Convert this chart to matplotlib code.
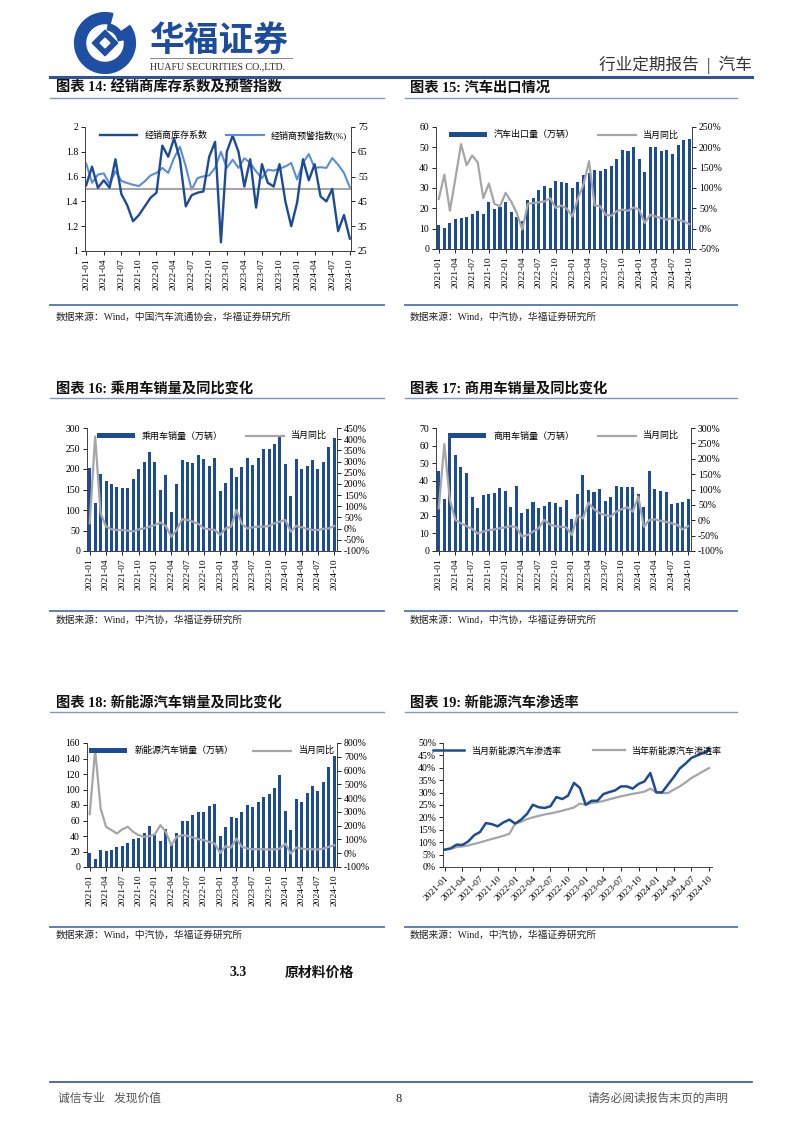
import numpy as np
import pandas as pd
import matplotlib
matplotlib.use('Agg')
import matplotlib.pyplot as plt
from matplotlib.lines import Line2D
from matplotlib.patches import Wedge, Polygon

plt.rcParams['font.family'] = ['Liberation Serif', 'Noto Sans CJK SC', 'DejaVu Sans']
plt.rcParams['axes.unicode_minus'] = False

months = list(pd.period_range('2021-01', '2024-10', freq='M').strftime('%Y-%m'))

# 图表14 经销商库存系数 / 预警指数
inv_coef = [1.53, 1.68, 1.51, 1.57, 1.51, 1.74, 1.46, 1.37, 1.24, 1.29, 1.36, 1.43,
            1.47, 1.85, 1.76, 1.91, 1.74, 1.36, 1.45, 1.47, 1.48, 1.76, 1.88, 1.07,
            1.80, 1.93, 1.80, 1.52, 1.74, 1.35, 1.70, 1.55, 1.52, 1.70, 1.40, 1.20,
            1.39, 1.74, 1.57, 1.70, 1.44, 1.40, 1.50, 1.16, 1.29, 1.10]
warn_idx = [60.3, 52.5, 55.8, 56.3, 52.0, 57.2, 53.3, 52.4, 51.7, 51.2, 53.1, 55.5,
            56.5, 58.5, 56.5, 62.5, 67.0, 59.1, 49.7, 54.4, 55.1, 55.5, 58.5, 65.0,
            58.5, 61.8, 58.5, 62.4, 60.5, 57.1, 54.4, 57.8, 57.4, 58.2, 59.1, 60.5,
            53.8, 60.5, 64.1, 58.5, 58.8, 58.5, 62.5, 59.8, 56.5, 50.7]

# 图表15 汽车出口
export_vol = [11.6, 10.3, 12.8, 14.8, 15.2, 15.7, 17.0, 18.5, 17.0, 23.1, 19.8, 20.8,
              23.1, 18.0, 15.5, 13.8, 24.3, 25.1, 28.9, 30.8, 30.0, 33.6, 32.8, 32.5,
              30.0, 32.8, 36.2, 37.4, 38.7, 38.2, 39.3, 40.6, 44.4, 48.9, 48.4, 50.0,
              44.4, 37.9, 50.0, 50.2, 48.4, 48.5, 46.7, 51.2, 53.8, 54.1]
export_yoy = [73, 133, 44, 125, 208, 156, 180, 163, 75, 111, 61, 55,
              88, 67, 39, -2, 61, 63, 65, 67, 75, 51, 57, 49,
              30, 75, 108, 166, 57, 55, 34, 32, 43, 47, 44, 52,
              47, 14, 34, 30, 26, 22, 26, 22, 18, 11]

# 图表16 乘用车
pv_sales = [203, 116, 188, 171, 164, 156, 154, 154, 175, 201, 218, 242,
            218, 149, 186, 96, 163, 222, 217, 214, 234, 224, 207, 226,
            147, 167, 202, 181, 206, 226, 210, 228, 248, 248, 261, 279,
            212, 133, 224, 199, 207, 222, 199, 217, 253, 276]
pv_yoy = [24, 412, 69, 9, -3, -6, -6, -9, -13, -3, 1, 9,
          16, 27, 12, -36, -6, 42, 39, 31, 21, 1, -3, -6,
          -28, 1, 9, 84, 21, 1, 6, 9, 9, 12, 24, 31,
          39, -13, 12, 6, -1, -6, -6, -1, 1, 12]

# 图表17 商用车
cv_sales = [45.5, 29.6, 65.1, 54.6, 48.0, 44.6, 30.9, 24.3, 31.7, 32.4, 32.8, 36.1,
            34.3, 24.9, 37.0, 21.4, 23.7, 27.9, 24.3, 25.8, 27.9, 27.5, 25.0, 29.0,
            18.0, 32.4, 43.3, 34.7, 33.4, 35.1, 28.7, 30.9, 37.0, 36.2, 36.6, 36.2,
            32.4, 24.9, 45.7, 35.5, 34.2, 33.6, 26.8, 27.1, 28.1, 29.6]
cv_yoy = [39, 248, 66, 1, -10, -19, -28, -43, -37, -32, -30, -26,
          -23, -19, -23, -53, -48, -37, -26, 1, -13, -19, -21, -23,
          -48, 17, 6, 57, 36, 23, 17, 12, 28, 36, 42, 28,
          77, -21, 1, 3, -2, -5, -10, -15, -30, -19]

# 图表18 新能源汽车
nev_sales = [18.2, 10.4, 22.5, 20.8, 21.6, 25.9, 27.7, 31.6, 35.5, 37.6, 44.5, 53.2,
             41.9, 33.3, 48.4, 28.0, 44.1, 59.7, 59.2, 66.6, 70.5, 70.9, 78.7, 80.9,
             40.2, 51.9, 64.9, 63.6, 71.4, 80.0, 77.8, 84.3, 89.9, 93.8, 102.5, 118.5,
             72.6, 47.6, 87.8, 84.3, 95.1, 104.6, 98.6, 109.4, 128.4, 142.7]
nev_yoy = [284, 752, 326, 192, 168, 143, 173, 192, 155, 131, 119, 124,
           138, 204, 155, 58, 119, 131, 126, 114, 102, 95, 82, 70,
           2, 51, 41, 107, 46, 34, 29, 29, 29, 27, 27, 34,
           70, -3, 41, 34, 29, 29, 27, 34, 46, 58]

# 图表19 渗透率
pen_month = [7.0, 7.5, 9.0, 8.9, 10.3, 12.8, 14.1, 17.7, 17.3, 16.4, 18.0, 19.1,
             17.5, 19.1, 21.4, 25.1, 24.1, 23.8, 24.5, 28.2, 27.4, 28.8, 33.9, 31.9,
             25.1, 26.7, 26.7, 29.4, 30.2, 30.9, 32.5, 32.5, 31.6, 33.5, 34.5, 37.9,
             30.1, 30.1, 33.2, 36.3, 39.7, 41.7, 44.0, 45.0, 46.0, 47.0]
pen_year = [7.0, 7.3, 8.0, 8.3, 8.7, 9.3, 9.9, 10.6, 11.3, 11.9, 12.6, 13.4,
            17.5, 18.2, 19.3, 20.0, 20.6, 21.2, 21.6, 22.1, 22.7, 23.3, 24.0, 25.6,
            25.1, 25.8, 26.1, 26.6, 27.3, 27.9, 28.5, 29.0, 29.5, 29.9, 30.4, 31.6,
            30.1, 29.8, 29.8, 31.2, 32.5, 34.1, 35.9, 37.2, 38.6, 39.9]

BLUE = '#1d4c97'
LIGHT = '#5b8ddc'
GRAY = '#a6a6a6'
RULE = '#2f5597'
TXT = '#222222'

W, H = 802, 1133
fig = plt.figure(figsize=(W / 100, H / 100), dpi=100)


def ax_px(x0, y0, x1, y1):
    return fig.add_axes([x0 / W, 1 - y1 / H, (x1 - x0) / W, (y1 - y0) / H])


def txt(x, y, s, **kw):
    kw.setdefault('va', 'center')
    kw.setdefault('color', TXT)
    fig.text(x / W, 1 - y / H, s, **kw)


def hline(x0, x1, y, **kw):
    fig.add_artist(Line2D([x0 / W, x1 / W], [1 - y / H, 1 - y / H],
                          transform=fig.transFigure, **kw))


def style_x(ax, rot=90):
    x = np.arange(len(months))
    ax.set_xticks(x[::3])
    if rot == 90:
        ax.set_xticklabels(months[::3], rotation=90, fontsize=6.8)
    else:
        ax.set_xticklabels(months[::3], rotation=45, ha='right',
                           rotation_mode='anchor', fontsize=6.8)
    ax.tick_params(axis='x', which='major', length=3, width=0.6, pad=2)


def style_y(ax, fs=7):
    ax.tick_params(axis='y', length=3, width=0.6, labelsize=fs, pad=2)
    for s in ax.spines.values():
        s.set_linewidth(0.7)
        s.set_color('#444444')
    ax.spines['top'].set_visible(False)


pct = matplotlib.ticker.FuncFormatter(lambda v, p: '%d%%' % v)


def bar_chart(rect, bars, yoy, label, ylim, ystep, rlim, rstep, colsp):
    ax = ax_px(*rect)
    x = np.arange(len(months))
    ax.bar(x, bars, width=0.55, color=BLUE, label=label, zorder=2)
    ax.set_xlim(-0.5, len(months) - 0.5)
    ax.set_ylim(*ylim)
    ax.set_yticks(np.arange(ylim[0], ylim[1] + ystep / 2, ystep))
    style_x(ax)
    style_y(ax)
    ax2 = ax.twinx()
    ax2.plot(x, yoy, color=GRAY, lw=1.6, label='当月同比')
    ax2.set_ylim(*rlim)
    ax2.set_yticks(np.arange(rlim[0], rlim[1] + rstep / 2, rstep))
    ax2.yaxis.set_major_formatter(pct)
    style_y(ax2)
    h1, l1 = ax.get_legend_handles_labels()
    h2, l2 = ax2.get_legend_handles_labels()
    ax2.legend(h1 + h2, l1 + l2, loc='upper center', bbox_to_anchor=(0.5, 1.04),
               ncol=2, frameon=False, fontsize=6.5, handlelength=4.2,
               handleheight=0.45, columnspacing=colsp)
    return ax, ax2


# ---------------- header ----------------
lax = fig.add_axes([70 / W, 1 - 74 / H, 70 / W, 62 / H])
lax.set_xlim(-1.15, 1.15)
lax.set_ylim(-1.02, 1.02)
lax.set_aspect('equal')
lax.axis('off')
lax.add_patch(Wedge((0, 0), 1.0, 75, 395, width=0.36, color='#1f4fa3'))
lax.add_patch(Polygon([[-0.42, 0], [0, 0.42], [0.42, 0], [0, -0.42]], color='#1f4fa3'))
lax.add_patch(Polygon([[-0.16, 0], [0, 0.16], [0.16, 0], [0, -0.16]], color='white'))
lax.add_patch(Wedge((0, 0), 0.64, 10, 80, width=0.2, color='#1f4fa3'))

txt(150, 40, '华福证券', fontsize=25, fontweight='bold', color='#1c4c9e',
    family=['Noto Sans CJK SC'])
hline(150, 292, 58, color='#888888', lw=0.7)
txt(150, 67, 'HUAFU SECURITIES CO.,LTD.', fontsize=7.2, color='#2a2a2a')
txt(752, 65, '行业定期报告  |  汽车', fontsize=12, ha='right', color='#333333')
hline(50, 752, 77, color=RULE, lw=2.2)

# ---------------- titles / sources ----------------
titles = [(56, 88, '图表 14: 经销商库存系数及预警指数'), (410, 88, '图表 15: 汽车出口情况'),
          (56, 389, '图表 16: 乘用车销量及同比变化'), (410, 389, '图表 17: 商用车销量及同比变化'),
          (56, 703, '图表 18: 新能源汽车销量及同比变化'), (410, 703, '图表 19: 新能源汽车渗透率')]
for x, y, s in titles:
    txt(x, y, s, fontsize=10.3, fontweight='bold', color='#111111')
for y in (98, 398, 712):
    hline(50, 384, y, color='#7f97c4', lw=1.0)
    hline(405, 737, y, color='#7f97c4', lw=1.0)
for y in (305, 611, 927):
    hline(50, 384, y, color='#5f7fba', lw=1.4)
    hline(405, 737, y, color='#5f7fba', lw=1.4)
src1 = '数据来源：Wind，中国汽车流通协会，华福证券研究所'
src2 = '数据来源：Wind，中汽协，华福证券研究所'
txt(56, 317, src1, fontsize=7)
txt(410, 317, src2, fontsize=7)
for y in (620, 935):
    txt(56, y, src2, fontsize=7)
    txt(410, y, src2, fontsize=7)

# ---------------- chart 14 ----------------
ax = ax_px(85, 127, 351, 251)
x = np.arange(len(months))
ax.plot(x, inv_coef, color=BLUE, lw=1.7, label='经销商库存系数', zorder=3)
ax.axhline(1.5, color=GRAY, lw=1.5, zorder=1)
ax.set_xlim(-0.2, len(months) - 0.8)
ax.set_ylim(1, 2)
ax.set_yticks([1, 1.2, 1.4, 1.6, 1.8, 2])
ax.set_yticklabels(['1', '1.2', '1.4', '1.6', '1.8', '2'])
style_x(ax)
style_y(ax)
ax2 = ax.twinx()
ax2.plot(x, warn_idx, color=LIGHT, lw=1.5, label='经销商预警指数(%)')
ax2.set_ylim(25, 75)
ax2.set_yticks(np.arange(25, 76, 10))
style_y(ax2)
ax.set_zorder(ax2.get_zorder() + 1)
ax.patch.set_visible(False)
h1, l1 = ax.get_legend_handles_labels()
h2, l2 = ax2.get_legend_handles_labels()
ax.legend(h1 + h2, l1 + l2, loc='upper center', bbox_to_anchor=(0.52, 1.04), ncol=2,
          frameon=False, fontsize=6.5, handlelength=4.2, columnspacing=2.0)

# ---------------- charts 15-18 ----------------
bar_chart((436, 127, 692, 249), export_vol, export_yoy, '汽车出口量（万辆）',
          (0, 60), 10, (-50, 250), 50, 2.6)
bar_chart((87, 428, 337, 551), pv_sales, pv_yoy, '乘用车销量（万辆）',
          (0, 300), 50, (-100, 450), 50, 2.6)
bar_chart((436, 428, 691, 551), cv_sales, cv_yoy, '商用车销量（万辆）',
          (0, 70), 10, (-100, 300), 50, 2.6)
bar_chart((87, 743, 337, 867), nev_sales, nev_yoy, '新能源汽车销量（万辆）',
          (0, 160), 20, (-100, 800), 100, 2.2)

# ---------------- chart 19 ----------------
ax = ax_px(443, 743, 712, 867)
ax.plot(x, pen_month, color=BLUE, lw=1.8, label='当月新能源汽车渗透率', zorder=3)
ax.plot(x, pen_year, color=GRAY, lw=1.6, label='当年新能源汽车渗透率')
ax.set_xlim(-0.3, len(months) - 0.5)
ax.set_ylim(0, 50)
ax.set_yticks(np.arange(0, 51, 5))
ax.yaxis.set_major_formatter(pct)
style_x(ax, rot=45)
style_y(ax)
ax.spines['right'].set_visible(False)
ax.legend(loc='upper center', bbox_to_anchor=(0.5, 1.04), ncol=2, frameon=False,
          fontsize=6.5, handlelength=3.5, columnspacing=3.5)

# ---------------- body / footer ----------------
txt(230, 973, '3.3', fontsize=10, fontweight='bold', color='#111111')
txt(285, 973, '原材料价格', fontsize=10, fontweight='bold', color='#111111')
hline(50, 752, 1082, color=RULE, lw=1.2)
txt(58, 1099, '诚信专业   发现价值', fontsize=8.5, color='#555555')
txt(395, 1099, '8', fontsize=9, color='#222222')
txt(728, 1099, '请务必阅读报告末页的声明', fontsize=8.5, color='#555555', ha='right')

fig.savefig('out.png', dpi=100)
